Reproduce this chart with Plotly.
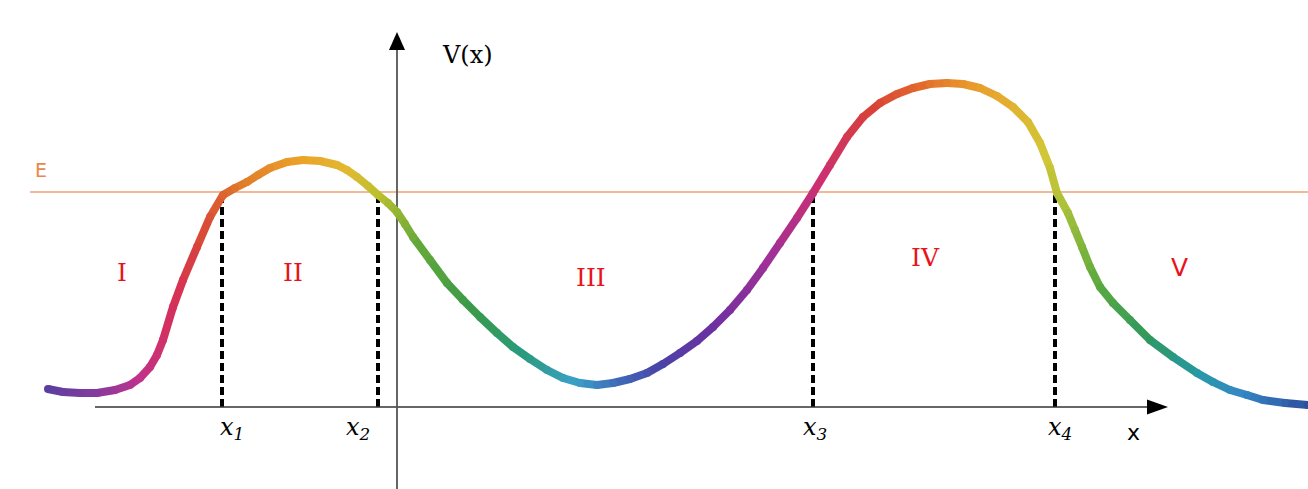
import plotly.graph_objects as go

# ---- data (x in arbitrary units, V(x) in arbitrary units) ----
curve_x = [-3.49, -3.34, -3.17, -3.00, -2.82, -2.67, -2.57, -2.47, -2.40, -2.34,
           -2.24, -2.14, -2.00, -1.87, -1.74, -1.62, -1.50, -1.39, -1.27, -1.10,
           -0.94, -0.77, -0.60, -0.50, -0.40, -0.29, -0.19, -0.09, 0.00, 0.08,
           0.16, 0.33, 0.50, 0.66, 0.83, 1.00, 1.16, 1.33, 1.50, 1.66,
           1.83, 2.00, 2.16, 2.33, 2.50, 2.66, 2.83, 3.00, 3.16, 3.33,
           3.50, 3.66, 3.83, 4.00, 4.16, 4.33, 4.50, 4.66, 4.83, 5.00,
           5.16, 5.33, 5.50, 5.66, 5.83, 6.00, 6.16, 6.31, 6.43, 6.53,
           6.60, 6.71, 6.78, 6.85, 6.93, 7.03, 7.16, 7.33, 7.53, 7.76,
           8.00, 8.16, 8.33, 8.50, 8.66, 8.88, 9.11]
curve_v = [0.18, 0.15, 0.14, 0.14, 0.17, 0.22, 0.29, 0.40, 0.52, 0.67,
           1.00, 1.27, 1.60, 1.90, 2.12, 2.19, 2.25, 2.32, 2.39, 2.45,
           2.47, 2.46, 2.42, 2.37, 2.30, 2.21, 2.12, 2.04, 1.95, 1.83,
           1.70, 1.47, 1.24, 1.07, 0.90, 0.74, 0.60, 0.48, 0.37, 0.29,
           0.24, 0.22, 0.24, 0.28, 0.34, 0.43, 0.54, 0.66, 0.80, 0.97,
           1.17, 1.39, 1.64, 1.89, 2.14, 2.42, 2.70, 2.90, 3.04, 3.13,
           3.19, 3.23, 3.24, 3.23, 3.19, 3.11, 3.00, 2.85, 2.64, 2.39,
           2.14, 1.94, 1.77, 1.60, 1.40, 1.20, 1.04, 0.87, 0.67, 0.50,
           0.34, 0.25, 0.17, 0.12, 0.07, 0.04, 0.02]
# rainbow colour stops along the curve (position on x axis, colour)
color_stop_x = [-3.49, -2.97, -2.57, -2.22, -1.97, -1.57, -0.97, -0.47, -0.17, 0.23,
                0.73, 1.23, 1.78, 2.23, 2.63, 3.13, 3.73, 4.23, 4.73, 5.23,
                5.73, 6.13, 6.48, 6.68, 7.03, 7.53, 8.03, 8.43, 9.11]
color_stop_c = ["#5B3F9F", "#8A3A9C", "#C0328C", "#D63058", "#D84538", "#E07A2A", "#ECA22A",
                "#E0BA30", "#B9C02E", "#62A83A", "#3A9A48", "#2A9A7A", "#3AA0C8", "#4068B8",
                "#4A44A8", "#6A30A0", "#A03098", "#CC3070", "#D84038", "#E26A2C", "#E89A2C",
                "#E4B030", "#D0C636", "#A8C03A", "#58A840", "#2E9860", "#2898A8", "#3488C4",
                "#2E4E9E"]
energy = 2.15
turning_x = [-1.75, -0.19, 4.16, 6.58]
turning_labels = ["x<sub>1</sub>", "x<sub>2</sub>", "x<sub>3</sub>", "x<sub>4</sub>"]
region_labels = ["I", "II", "III", "IV", "V"]
region_x = [-2.75, -1.04, 1.94, 5.28, 7.82]
region_v = [1.35, 1.35, 1.30, 1.50, 1.40]


def hex_to_rgb(h):
    h = h.lstrip("#")
    return tuple(int(h[i:i + 2], 16) for i in (0, 2, 4))


def color_at(x):
    if x <= color_stop_x[0]:
        return color_stop_c[0]
    for k in range(len(color_stop_x) - 1):
        a, b = color_stop_x[k], color_stop_x[k + 1]
        if a <= x <= b:
            t = (x - a) / (b - a)
            ca, cb = hex_to_rgb(color_stop_c[k]), hex_to_rgb(color_stop_c[k + 1])
            r, g, bl = (round(ca[j] + (cb[j] - ca[j]) * t) for j in range(3))
            return f"rgb({r},{g},{bl})"
    return color_stop_c[-1]


fig = go.Figure()

# rainbow curve drawn segment by segment
point_colors = [color_at(x) for x in curve_x]
for i in range(len(curve_x) - 1):
    mid = 0.5 * (curve_x[i] + curve_x[i + 1])
    fig.add_trace(go.Scatter(
        x=[curve_x[i], curve_x[i + 1]], y=[curve_v[i], curve_v[i + 1]],
        mode="lines", line=dict(color=color_at(mid), width=8),
        hoverinfo="skip", showlegend=False))
fig.add_trace(go.Scatter(
    x=curve_x, y=curve_v, mode="markers",
    marker=dict(color=point_colors, size=8, line=dict(width=0)),
    hoverinfo="skip", showlegend=False))

shapes = []
# energy line
shapes.append(dict(type="line", xref="x", yref="y", x0=-3.67, x1=9.11, y0=energy, y1=energy,
                   line=dict(color="#F0A070", width=1.5), layer="below"))
# dashed turning-point lines
for tx in turning_x:
    shapes.append(dict(type="line", xref="x", yref="y", x0=tx, x1=tx, y0=0, y1=energy - 0.03,
                       line=dict(color="black", width=4, dash="8px,4px"), layer="below"))
# x axis
shapes.append(dict(type="line", xref="x", yref="y", x0=-3.02, x1=7.55, y0=0, y1=0,
                   line=dict(color="#333333", width=1.6), layer="below"))
shapes.append(dict(type="path", xref="x", yref="y",
                   path="M 7.50 0.075 L 7.71 0 L 7.50 -0.075 Z",
                   fillcolor="black", line=dict(color="black", width=0)))
# y axis
shapes.append(dict(type="line", xref="x", yref="y", x0=0, x1=0, y0=-0.85, y1=3.60,
                   line=dict(color="#555555", width=1.8), layer="below"))
shapes.append(dict(type="path", xref="x", yref="y",
                   path="M -0.08 3.57 L 0 3.75 L 0.08 3.57 Z",
                   fillcolor="black", line=dict(color="black", width=0)))

annotations = []
serif = "DejaVu Serif"
annotations.append(dict(x=0.70, y=3.52, xref="x", yref="y", text="V(x)", showarrow=False,
                        font=dict(family=serif, size=24, color="black")))
annotations.append(dict(x=-3.56, y=2.37, xref="x", yref="y", text="E", showarrow=False,
                        font=dict(family="DejaVu Sans", size=19, color="#E8884A")))
annotations.append(dict(x=7.36, y=-0.25, xref="x", yref="y", text="x", showarrow=False,
                        font=dict(family="DejaVu Sans", size=22, color="black")))
label_dx = [0.10, -0.20, 0.02, 0.05]
for tx, lab, dx in zip(turning_x, turning_labels, label_dx):
    annotations.append(dict(x=tx + dx, y=-0.21, xref="x", yref="y",
                            text="<i>" + lab + "</i>", showarrow=False,
                            font=dict(family=serif, size=24, color="black")))
for lab, rx, rv in zip(region_labels, region_x, region_v):
    fam = "DejaVu Sans" if lab == "V" else serif
    annotations.append(dict(x=rx, y=rv, xref="x", yref="y", text=lab, showarrow=False,
                            font=dict(family=fam, size=25, color="#E8141C")))

fig.update_layout(
    width=1308, height=489,
    margin=dict(l=0, r=0, t=0, b=0),
    paper_bgcolor="white", plot_bgcolor="white",
    xaxis=dict(range=[-3.97, 9.11], visible=False, fixedrange=True),
    yaxis=dict(range=[-0.82, 4.07], visible=False, fixedrange=True),
    shapes=shapes, annotations=annotations, showlegend=False,
)

fig.write_html("out.html")
